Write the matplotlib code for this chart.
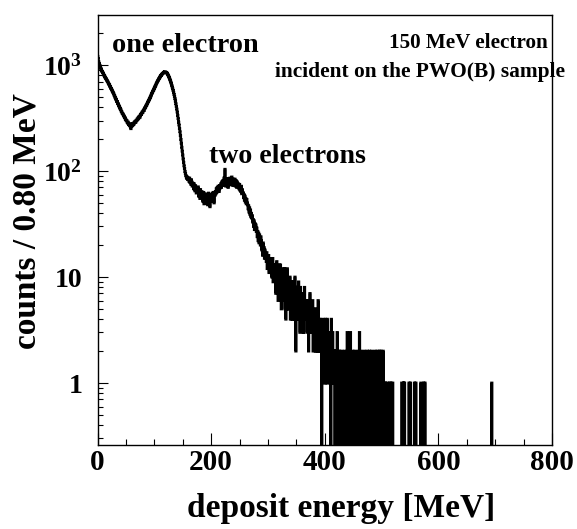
import numpy as np
import matplotlib

matplotlib.use("Agg")
import matplotlib.pyplot as plt
from matplotlib.ticker import FixedLocator, FixedFormatter, LogLocator, MultipleLocator, NullFormatter

plt.rcParams["font.family"] = ["Liberation Serif", "DejaVu Serif"]
plt.rcParams["font.weight"] = "bold"
plt.rcParams["mathtext.fontset"] = "custom"
plt.rcParams["mathtext.rm"] = "Liberation Serif:bold"
plt.rcParams["mathtext.it"] = "Liberation Serif:bold:italic"
plt.rcParams["mathtext.bf"] = "Liberation Serif:bold"

BIN_WIDTH = 0.8  # MeV
N_BINS = 1000    # 0 - 800 MeV

# counts per 0.8 MeV bin, 10 bins (8 MeV) per row, 0 - 584 MeV
COUNTS_LOW = [
    1210, 1150, 1080, 1040, 1000, 985, 950, 930, 905, 880,
    872, 850, 838, 815, 801, 790, 772, 760, 749, 735,
    722, 708, 698, 680, 671, 655, 648, 630, 622, 605,
    598, 585, 571, 560, 548, 540, 522, 515, 499, 490,
    478, 470, 455, 451, 436, 430, 418, 410, 401, 392,
    384, 378, 366, 362, 351, 349, 340, 333, 330, 321,
    318, 309, 305, 298, 300, 288, 283, 290, 276, 274,
    268, 279, 262, 251, 272, 265, 281, 270, 276, 284,
    278, 291, 288, 296, 290, 302, 299, 310, 306, 318,
    315, 326, 330, 322, 338, 345, 341, 352, 361, 357,
    370, 378, 372, 390, 398, 395, 410, 418, 421, 435,
    442, 455, 461, 470, 482, 490, 501, 512, 525, 538,
    549, 560, 575, 582, 598, 612, 625, 638, 650, 668,
    680, 695, 708, 721, 735, 748, 760, 772, 785, 796,
    805, 816, 828, 835, 842, 851, 856, 862, 865, 860,
    858, 852, 845, 830, 818, 802, 785, 768, 750, 728,
    712, 690, 668, 645, 620, 598, 575, 550, 528, 505,
    482, 458, 432, 408, 385, 360, 336, 312, 290, 272,
    252, 235, 216, 199, 183, 168, 154, 142, 130, 121,
    112, 106, 99, 95, 91, 88, 85, 88, 83, 86,
    84, 80, 86, 78, 81, 75, 83, 79, 72, 77,
    74, 68, 76, 71, 65, 73, 69, 62, 70, 66,
    64, 71, 58, 66, 60, 55, 67, 62, 57, 64,
    60, 52, 56, 63, 49, 58, 54, 61, 50, 57,
    53, 59, 48, 55, 62, 51, 57, 46, 60, 54,
    58, 52, 61, 55, 63, 57, 50, 62, 59, 64,
    61, 68, 63, 70, 65, 72, 67, 64, 73, 69,
    71, 76, 70, 79, 74, 81, 73, 77, 86, 75,
    104, 78, 72, 82, 76, 84, 79, 70, 85, 80,
    77, 86, 74, 83, 79, 88, 76, 82, 73, 84,
    80, 75, 84, 72, 78, 81, 70, 79, 74, 76,
    73, 68, 75, 66, 70, 64, 72, 61, 67, 63,
    62, 56, 60, 53, 58, 51, 55, 49, 54, 50,
    48, 44, 47, 41, 45, 39, 43, 37, 40, 36,
    38, 33, 35, 30, 34, 28, 32, 29, 31, 27,
    29, 24, 27, 22, 26, 21, 25, 23, 20, 24,
    22, 18, 20, 16, 21, 17, 19, 15, 18, 17,
    16, 14, 17, 12, 15, 13, 16, 11, 14, 15,
    13, 11, 14, 10, 12, 15, 9, 13, 11, 12,
    10, 13, 7, 11, 14, 8, 12, 6, 11, 10,
    13, 7, 13, 9, 5, 11, 10, 6, 12, 9,
    8, 12, 5, 9, 4, 10, 7, 12, 5, 8,
    9, 5, 7, 10, 4, 8, 6, 9, 4, 7,
    6, 9, 4, 7, 10, 5, 2, 6, 8, 4,
    8, 4, 9, 5, 6, 3, 8, 4, 6, 7,
    5, 7, 3, 6, 3, 8, 5, 4, 6, 4,
    4, 6, 3, 5, 2, 6, 4, 7, 3, 5,
    5, 3, 4, 6, 2, 4, 5, 3, 4, 2,
    3, 5, 2, 4, 3, 6, 2, 4, 3, 2,
    4, 2, 3, 0, 2, 3, 4, 2, 3, 1,
    2, 4, 1, 3, 2, 4, 1, 3, 2, 3,
    3, 1, 2, 0, 4, 2, 1, 3, 1, 2,
    1, 2, 0, 1, 2, 1, 0, 3, 1, 2,
    1, 0, 2, 1, 0, 1, 1, 2, 0, 1,
    1, 0, 1, 2, 0, 1, 0, 1, 1, 3,
    0, 1, 1, 0, 2, 1, 3, 0, 1, 0,
    1, 2, 0, 1, 1, 0, 2, 1, 0, 1,
    0, 1, 1, 2, 0, 1, 3, 0, 1, 1,
    2, 0, 1, 0, 1, 1, 0, 2, 1, 0,
    1, 0, 1, 2, 0, 1, 0, 1, 2, 0,
    1, 1, 0, 2, 1, 0, 1, 0, 1, 0,
    2, 0, 1, 0, 1, 2, 0, 1, 0, 1,
    2, 1, 0, 2, 0, 1, 1, 0, 2, 0,
    1, 0, 0, 1, 0, 0, 0, 1, 0, 0,
    0, 0, 1, 0, 0, 1, 0, 0, 0, 1,
    0, 0, 0, 0, 0, 0, 0, 0, 0, 0,
    0, 0, 0, 0, 0, 0, 0, 0, 0, 1,
    1, 1, 0, 1, 0, 1, 0, 0, 0, 0,
    0, 0, 0, 0, 0, 1, 0, 0, 1, 0,
    0, 0, 0, 0, 0, 0, 0, 1, 0, 0,
    1, 0, 0, 0, 0, 0, 0, 0, 0, 0,
    0, 1, 0, 0, 0, 0, 0, 1, 0, 0,
    1, 0, 0, 0, 0, 0, 0, 0, 0, 0,
]

# isolated entries above 584 MeV
TAIL_ENERGY = [694.0]
TAIL_COUNTS = [1]

Y_TICKS = [1, 10, 100, 1000]
Y_TICK_LABELS = ["1", "10", "$10^{2}$", "$10^{3}$"]

counts = np.zeros(N_BINS)
counts[:len(COUNTS_LOW)] = COUNTS_LOW
for e, c in zip(TAIL_ENERGY, TAIL_COUNTS):
    counts[int(e / BIN_WIDTH)] = c
edges = np.arange(N_BINS + 1) * BIN_WIDTH

W, H = 577, 529
fig = plt.figure(figsize=(W / 100, H / 100), dpi=100)
ax = fig.add_axes([97.5 / W, 1 - 445 / H, 454.5 / W, 430 / H])

# empty bins sit below the log axis, like ROOT does
ax.stairs(np.where(counts > 0, counts, 1e-3), edges, color="black",
          linewidth=2.0, baseline=None)

ax.set_yscale("log")
ax.set_xlim(0, 800)
ax.set_ylim(0.26, 2970)

ax.xaxis.set_major_locator(MultipleLocator(200))
ax.xaxis.set_minor_locator(MultipleLocator(50))
ax.yaxis.set_major_locator(FixedLocator(Y_TICKS))
ax.yaxis.set_major_formatter(FixedFormatter(Y_TICK_LABELS))
ax.yaxis.set_minor_locator(LogLocator(base=10, subs=np.arange(2, 10)))
ax.yaxis.set_minor_formatter(NullFormatter())

ax.tick_params(which="both", direction="in", top=False, right=False, width=0.8)
ax.tick_params(axis="x", which="major", length=9, pad=3, labelsize=21)
ax.tick_params(axis="x", which="minor", length=4.5)
ax.tick_params(axis="y", which="major", length=7, pad=11, labelsize=20)
ax.tick_params(axis="y", which="minor", length=3.6)
for sp in ax.spines.values():
    sp.set_linewidth(1.0)

ax.text(0.032, 0.928, "one electron", transform=ax.transAxes,
        fontsize=20.3, fontweight="bold", va="center", ha="left")
ax.text(0.245, 0.670, "two electrons", transform=ax.transAxes,
        fontsize=20.1, fontweight="bold", va="center", ha="left")
ax.text(0.641, 0.935, "150 MeV electron", transform=ax.transAxes,
        fontsize=15.2, fontweight="bold", va="center", ha="left")
ax.text(0.3905, 0.867, "incident on the PWO(B) sample", transform=ax.transAxes,
        fontsize=15.4, fontweight="bold", va="center", ha="left")

fig.text(341.5 / W, 1 - 508 / H, "deposit energy [MeV]", fontsize=24,
         fontweight="bold", ha="center", va="center")
fig.text(27.5 / W, 1 - 221.5 / H, "counts / 0.80 MeV", fontsize=24,
         fontweight="bold", ha="center", va="center", rotation=90)

fig.savefig("out.png", dpi=100)
